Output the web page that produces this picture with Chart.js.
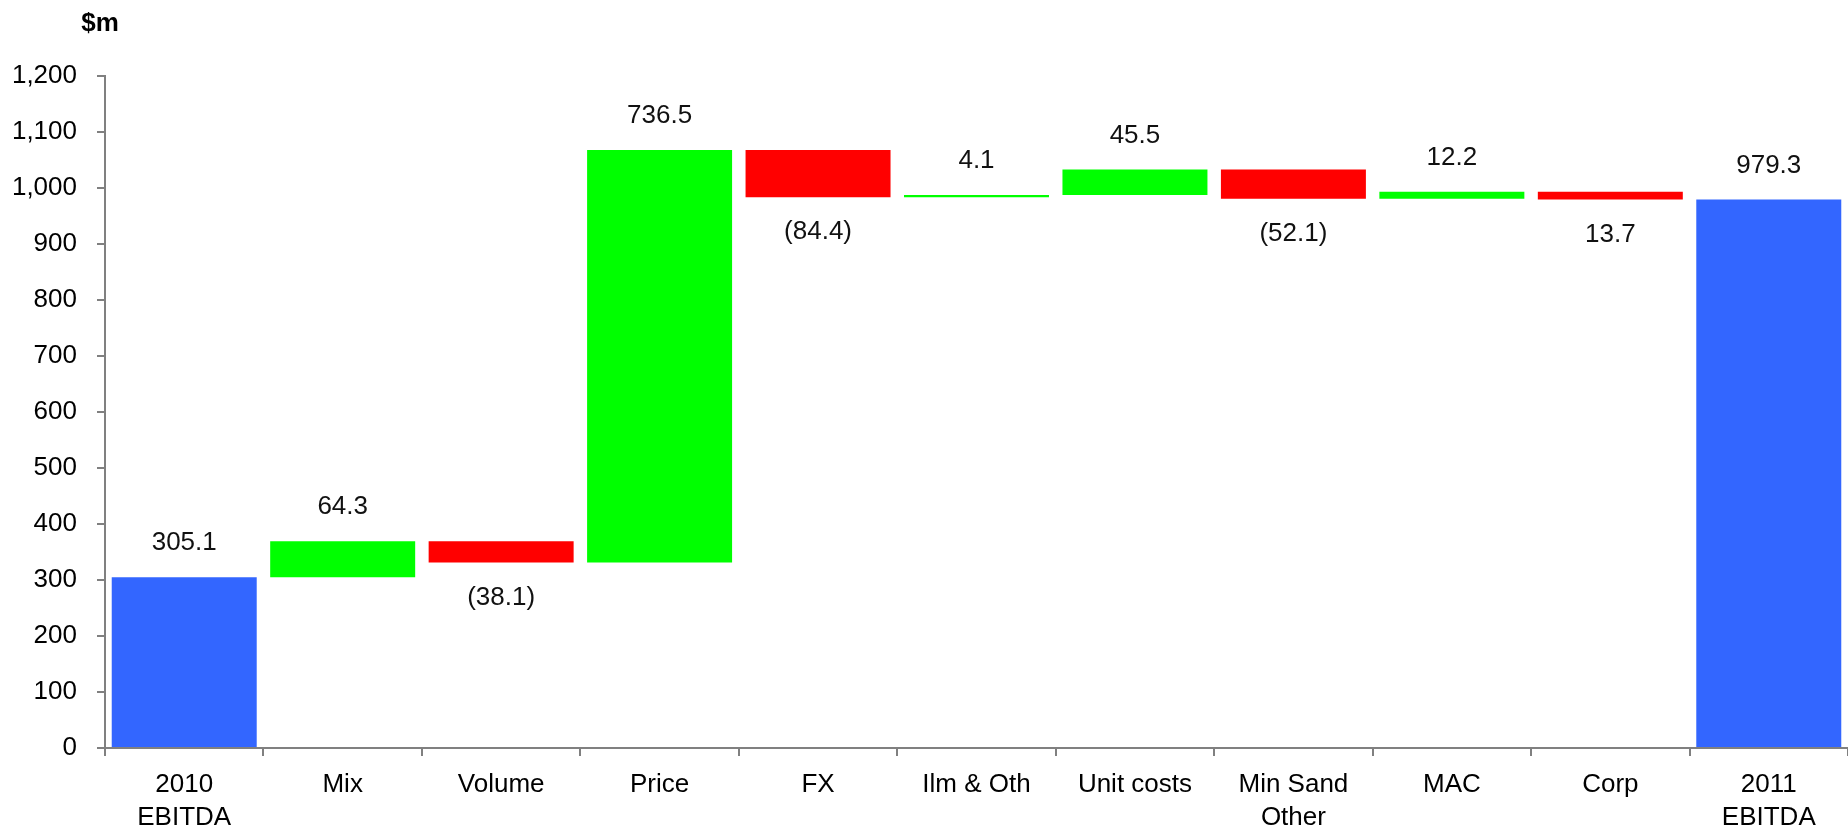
<!DOCTYPE html>
<html>
<head>
<meta charset="utf-8">
<script src="https://cdn.jsdelivr.net/npm/chart.js@4/dist/chart.umd.min.js"></script>
<style>
  html, body { margin: 0; padding: 0; background: #ffffff; overflow: hidden; }
  #wrap { width: 1848px; height: 832px; position: relative; }
</style>
</head>
<body>
<div id="wrap"><canvas id="c"></canvas></div>
<script>
// EBITDA bridge, 2010 -> 2011 ($m)
const categories = [["2010", "EBITDA"], "Mix", "Volume", "Price", "FX", "Ilm & Oth",
                    "Unit costs", ["Min Sand", "Other"], "MAC", "Corp", ["2011", "EBITDA"]];
const changes = [305.1, 64.3, -38.1, 736.5, -84.4, 4.1, 45.5, -52.1, 12.2, -13.7, 979.3];
const isTotal = [true, false, false, false, false, false, false, false, false, false, true];
const valueLabels = ["305.1", "64.3", "(38.1)", "736.5", "(84.4)", "4.1", "45.5",
                     "(52.1)", "12.2", "13.7", "979.3"];
const yMin = 0, yMax = 1200, yStep = 100;
const unitLabel = "$m";

const BLUE = "#3366ff", GREEN = "#00ff00", RED = "#ff0000";
const AXIS = "#808080";
const FONT = "'Liberation Sans', Arial, Helvetica, sans-serif";

// floating bar ranges from the running total
const ranges = [];
const colors = [];
let running = 0;
changes.forEach((v, i) => {
  if (isTotal[i]) {
    ranges.push([0, v]);
    running = v;
    colors.push(BLUE);
  } else {
    const start = running;
    running = +(running + v).toFixed(1);
    ranges.push([start, running]);
    colors.push(v >= 0 ? GREEN : RED);
  }
});

const valueLabelPlugin = {
  id: "valueLabels",
  afterDatasetsDraw(chart) {
    const ctx = chart.ctx;
    const meta = chart.getDatasetMeta(0);
    ctx.save();
    ctx.font = "26px " + FONT;
    ctx.fillStyle = "#111111";
    ctx.textAlign = "center";
    ctx.textBaseline = "middle";
    meta.data.forEach((bar, i) => {
      const top = Math.min(bar.y, bar.base);
      const bottom = Math.max(bar.y, bar.base);
      if (isTotal[i] || changes[i] >= 0) {
        ctx.fillText(valueLabels[i], bar.x, top - 34);
      } else {
        ctx.fillText(valueLabels[i], bar.x, bottom + 35);
      }
    });
    ctx.restore();
  }
};

const unitPlugin = {
  id: "unitLabel",
  afterDraw(chart) {
    const ctx = chart.ctx;
    ctx.save();
    ctx.font = "bold 26px " + FONT;
    ctx.fillStyle = "#000000";
    ctx.textAlign = "center";
    ctx.textBaseline = "middle";
    ctx.fillText(unitLabel, 100, 24);
    ctx.restore();
  }
};

new Chart(document.getElementById("c"), {
  type: "bar",
  data: {
    labels: categories,
    datasets: [{
      data: ranges,
      backgroundColor: colors,
      borderWidth: 0,
      borderSkipped: false,
      categoryPercentage: 1.0,
      barPercentage: 0.915
    }]
  },
  options: {
    responsive: true,
    maintainAspectRatio: false,
    animation: false,
    layout: { padding: { top: 76, right: 0, bottom: 0, left: 0 } },
    plugins: {
      legend: { display: false },
      tooltip: { enabled: false },
      title: { display: false }
    },
    scales: {
      x: {
        grid: {
          display: true,
          offset: true,
          drawOnChartArea: false,
          drawTicks: true,
          tickLength: 8,
          color: AXIS,
          lineWidth: 2
        },
        border: { display: true, color: AXIS, width: 2 },
        ticks: {
          color: "#000000",
          font: { family: FONT, size: 26, lineHeight: 1.28 },
          padding: 12,
          maxRotation: 0,
          autoSkip: false
        },
        afterFit(scale) { scale.height = 84; }
      },
      y: {
        min: yMin,
        max: yMax,
        grid: {
          display: true,
          drawOnChartArea: false,
          drawTicks: true,
          tickLength: 8,
          color: AXIS,
          lineWidth: 2
        },
        border: { display: true, color: AXIS, width: 2 },
        ticks: {
          stepSize: yStep,
          color: "#000000",
          font: { family: FONT, size: 26 },
          padding: 20,
          callback: (v) => v.toLocaleString("en-US")
        },
        afterFit(scale) { scale.width = 105; }
      }
    }
  },
  plugins: [valueLabelPlugin, unitPlugin]
});
</script>
</body>
</html>
